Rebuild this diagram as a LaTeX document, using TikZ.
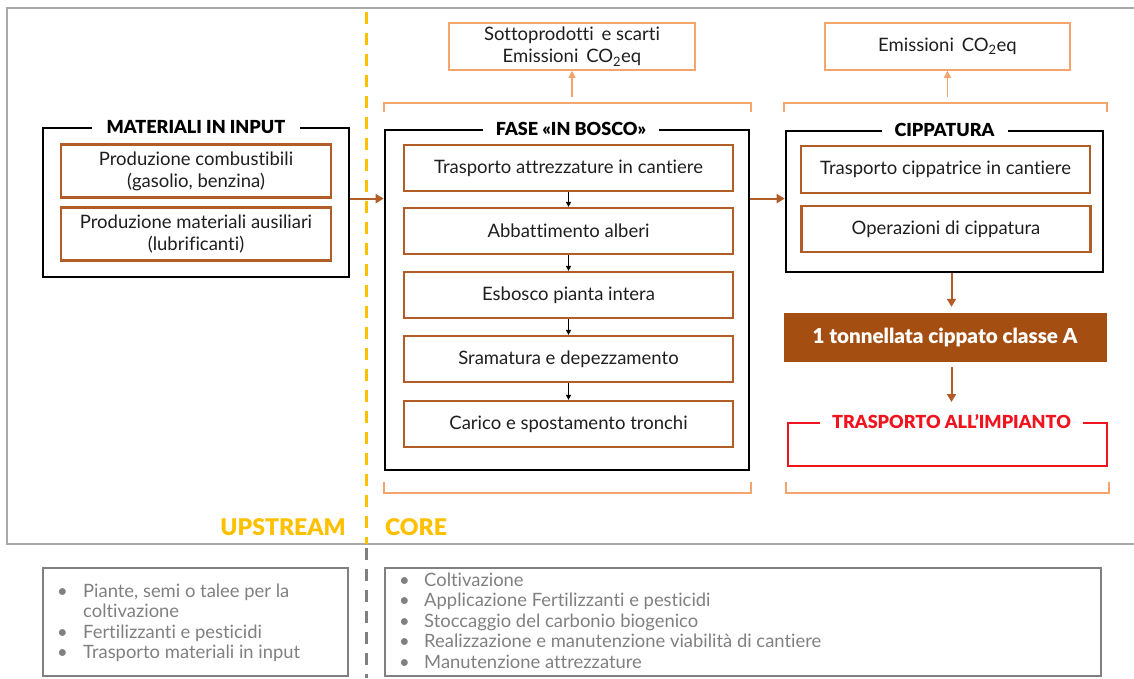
\documentclass[tikz,border=0pt]{standalone}
\usepackage{fontspec}
\setmainfont{Lato}[Ligatures=NoCommon]
\newfontfamily\heavyfont{Lato Black}[Ligatures=NoCommon]
\usetikzlibrary{arrows.meta}

\definecolor{brownline}{RGB}{178,92,40}
\definecolor{brownfill}{RGB}{164,78,18}
\definecolor{orangel}{RGB}{246,164,110}
\definecolor{yell}{RGB}{255,192,0}
\definecolor{redt}{RGB}{240,20,30}
\definecolor{grayframe}{RGB}{170,170,170}
\definecolor{graybox}{RGB}{128,128,128}
\definecolor{graytext}{RGB}{128,128,128}
\definecolor{textdark}{RGB}{30,30,30}

\newcommand\mybody{\fontsize{18.5}{22}\selectfont}
\newcommand\mytitle{\fontsize{18}{20}\selectfont\heavyfont}
\newcommand\mysmall{\fontsize{18.4}{20.5}\selectfont}

\tikzset{
 blackbox/.style={draw=black, line width=2.6pt, rectangle, inner sep=0pt},
 inbox/.style={draw=brownline, line width=2.2pt, rectangle, inner sep=0pt, align=center, font=\mybody, text=textdark},
 boxtitle/.style={fill=white, inner xsep=13pt, inner ysep=2pt, font=\mytitle, text=black},
 orbox/.style={draw=orangel, line width=1.5pt, rectangle, inner sep=0pt, align=center, font=\mybody, text=textdark},
 brarrow/.style={draw=brownline, line width=2pt, -{Triangle[length=8pt,width=9pt]}},
 smarrow/.style={draw=black, line width=0.9pt, -{Triangle[length=5pt,width=5pt]}},
 orarrow/.style={draw=orangel, line width=1.5pt, -{Triangle[length=7pt,width=7pt]}},
 bracket/.style={draw=orangel, line width=1.5pt},
 graybox/.style={draw=graybox, line width=2pt, rectangle, inner sep=0pt},
 graylist/.style={font=\mysmall, text=graytext, inner sep=0pt, anchor=west},
 sidelabel/.style={font=\fontsize{23}{25}\selectfont\heavyfont, text=yell, inner sep=0pt},
}

\begin{document}
\begin{tikzpicture}[x=1pt,y=-1pt]
\useasboundingbox (0,0) rectangle (1134,678);

% outer frame
\draw[grayframe, line width=1.5pt] (1134,8) -- (7,8) -- (7,544) -- (1134,544);

% divider
\draw[yell, line width=3pt, dash pattern=on 12pt off 9pt] (366,12) -- (366,544);
\draw[graybox, line width=3pt, dash pattern=on 12pt off 9pt] (366,548) -- (366,678);

% MATERIALI IN INPUT
\node[blackbox, minimum width=306pt, minimum height=149pt] (mat) at (196,202.5) {};
\node[boxtitle, inner xsep=15pt] (matT) at (mat.north) {MATERIALI IN INPUT};
\node[inbox, minimum width=270pt, minimum height=53pt] (m1) at (196,171) {Produzione combustibili\\(gasolio, benzina)};
\node[inbox, minimum width=270pt, minimum height=53pt] (m2) at (196,234) {Produzione materiali ausiliari\\(lubrificanti)};

% FASE IN BOSCO
\node[blackbox, minimum width=364pt, minimum height=340pt] (fase) at (567,300) {};
\node[boxtitle] (faseT) at ([xshift=4pt]fase.north) {FASE «IN BOSCO»};
\node[inbox, minimum width=329pt, minimum height=46pt] (f1) at (568.5,168) {Trasporto attrezzature in cantiere};
\node[inbox, minimum width=329pt, minimum height=46pt] (f2) at (568.5,231) {Abbattimento alberi};
\node[inbox, minimum width=329pt, minimum height=46pt] (f3) at (568.5,295) {Esbosco pianta intera};
\node[inbox, minimum width=329pt, minimum height=46pt] (f4) at (568.5,359) {Sramatura e depezzamento};
\node[inbox, minimum width=329pt, minimum height=46pt] (f5) at (568.5,424) {Carico e spostamento tronchi};
\draw[smarrow] (f1) -- (f2);
\draw[smarrow] (f2) -- (f3);
\draw[smarrow] (f3) -- (f4);
\draw[smarrow] (f4) -- (f5);

% CIPPATURA
\node[blackbox, minimum width=317pt, minimum height=141pt] (cip) at (944.5,201.5) {};
\node[boxtitle] (cipT) at (cip.north) {CIPPATURA};
\node[inbox, minimum width=289pt, minimum height=47pt] (c1) at (945.5,169.5) {Trasporto cippatrice in cantiere};
\node[inbox, minimum width=289pt, minimum height=46pt] (c2) at (946,229) {Operazioni di cippatura};

% product and transport
\node[fill=brownfill, draw=brownfill, minimum width=322pt, minimum height=48pt, inner sep=0pt,
      font=\fontsize{20.6}{22}\selectfont\heavyfont, text=white] (ton) at (945,337) {1 tonnellata cippato classe A};
\node[draw=redt, line width=2pt, minimum width=319pt, minimum height=43pt, inner sep=0pt] (tra) at (947.5,444.5) {};
\node[boxtitle, text=redt, inner xsep=12pt] (traT) at ([xshift=4pt]tra.north) {TRASPORTO ALL’IMPIANTO};

% horizontal flow arrows
\draw[brarrow] (mat.east |- m1.south) -- (fase.west |- m1.south);
\draw[brarrow] (fase.east |- m1.south) -- (cip.west |- m1.south);
% vertical flow arrows
\draw[brarrow, shorten >=6pt] ([xshift=7pt]cip.south) -- ([xshift=7pt]cip.south |- ton.north);
\draw[brarrow, shorten <=6pt] ([xshift=7pt]cip.south |- ton.south) -- ([xshift=7pt]cip.south |- 0,402);

% output boxes
\node[orbox, minimum width=246pt, minimum height=47pt] (sot) at (572,46.5) {Sottoprodotti\, e scarti\\Emissioni\, CO\textsubscript{2}eq};
\node[orbox, minimum width=245pt, minimum height=47pt] (emi) at (947.5,46.5) {Emissioni\, CO\textsubscript{2}eq};

% brackets
\draw[bracket] (384,112) -- (384,103) -- (751,103) -- (751,112);
\draw[bracket] (784,112) -- (784,103) -- (1107,103) -- (1107,112);
\draw[bracket] (384,482) -- (384,493) -- (751,493) -- (751,482);
\draw[bracket] (786,482) -- (786,493) -- (1109,493) -- (1109,482);
\coordinate (bf) at (572,97);
\coordinate (bc) at (947.5,97);
\draw[orarrow] (bf) -- (sot.south);
\draw[orarrow] (bc) -- (emi.south);

% stage labels
\node[sidelabel, anchor=east] (up) at (346,527) {UPSTREAM};
\node[sidelabel, anchor=west] (core) at (385,527) {CORE};

% lower lists
\node[graybox, minimum width=305pt, minimum height=108pt] (lb) at (195.5,622) {};
\node[graybox, minimum width=716pt, minimum height=108pt] (rb) at (743,622) {};
\node[graylist] (lt) at (57,624) {\begin{tabular}{@{}p{26pt}@{}l@{}}
\textbullet & Piante, semi o talee per la\\
 & coltivazione\\
\textbullet & Fertilizzanti e pesticidi\\
\textbullet & Trasporto materiali in input
\end{tabular}};
\node[graylist] (rt) at (399,623) {\begin{tabular}{@{}p{25pt}@{}l@{}}
\textbullet & Coltivazione\\
\textbullet & Applicazione Fertilizzanti e pesticidi\\
\textbullet & Stoccaggio del carbonio biogenico\\
\textbullet & Realizzazione e manutenzione viabilità di cantiere\\
\textbullet & Manutenzione attrezzature
\end{tabular}};
\end{tikzpicture}
\end{document}
